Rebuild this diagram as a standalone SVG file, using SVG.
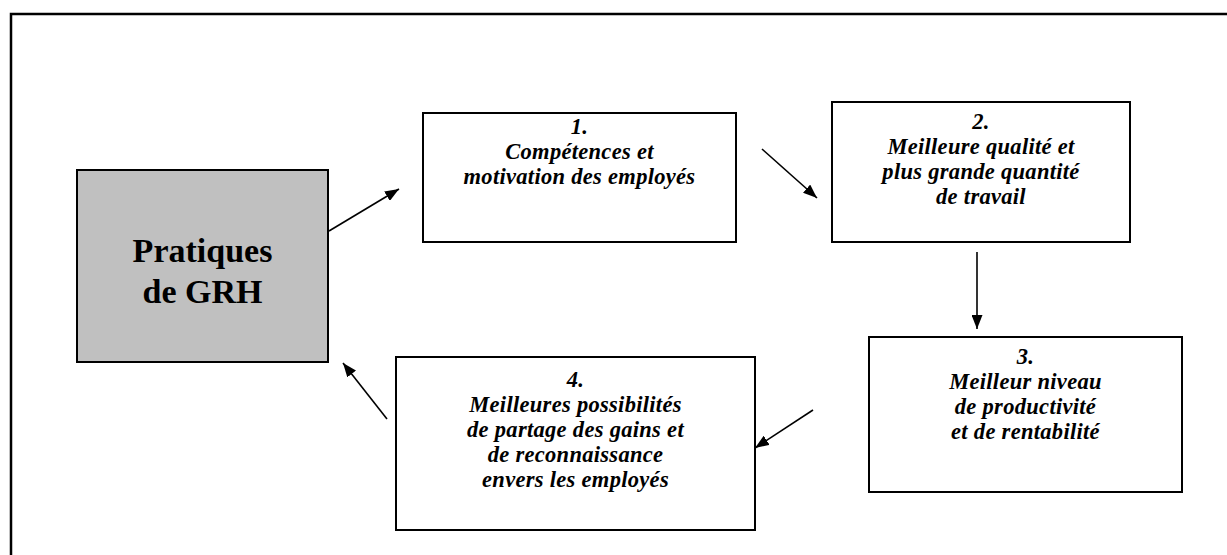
<svg xmlns="http://www.w3.org/2000/svg" width="1227" height="555" viewBox="0 0 1227 555">
  <style>
    .frame { fill: none; stroke: #000; stroke-width: 2.5; }
    .box { fill: #fff; stroke: #000; stroke-width: 2; }
    .grh { fill: #c0c0c0; stroke: #000; stroke-width: 2; }
    .lbl { font-family: "Liberation Serif", "Times New Roman", serif; font-weight: bold; font-style: italic; font-size: 22.5px; letter-spacing: 0.3px; text-anchor: middle; fill: #000; }
    .title { font-family: "Liberation Serif", "Times New Roman", serif; font-weight: bold; font-size: 34px; text-anchor: middle; fill: #000; }
    .arrow { stroke: #000; stroke-width: 1.6; fill: none; marker-end: url(#head); }
  </style>
  <defs>
    <marker id="head" markerUnits="userSpaceOnUse" markerWidth="14" markerHeight="11" refX="14" refY="5.5" orient="auto">
      <path d="M0,0 L14,5.5 L0,11 z" fill="#000"/>
    </marker>
  </defs>

  <!-- page frame, open on the right and bottom -->
  <path class="frame" d="M11,555 V14 H1227"/>

  <g id="node-grh">
    <rect class="grh" x="77" y="170" width="251" height="192"/>
    <text class="title" x="202.5" y="262">Pratiques</text>
    <text class="title" x="202.5" y="303">de GRH</text>
  </g>

  <g id="node-1">
    <rect class="box" x="423" y="113" width="313" height="129"/>
    <text class="lbl" x="579.5" y="134">1.</text>
    <text class="lbl" x="579.5" y="159">Compétences et</text>
    <text class="lbl" x="579.5" y="184">motivation des employés</text>
  </g>

  <g id="node-2">
    <rect class="box" x="832" y="102" width="298" height="140"/>
    <text class="lbl" x="981" y="129">2.</text>
    <text class="lbl" x="981" y="154">Meilleure qualité et</text>
    <text class="lbl" x="981" y="179">plus grande quantité</text>
    <text class="lbl" x="981" y="204">de travail</text>
  </g>

  <g id="node-3">
    <rect class="box" x="869" y="337" width="313" height="155"/>
    <text class="lbl" x="1025.5" y="364">3.</text>
    <text class="lbl" x="1025.5" y="389">Meilleur niveau</text>
    <text class="lbl" x="1025.5" y="414">de productivité</text>
    <text class="lbl" x="1025.5" y="439">et de rentabilité</text>
  </g>

  <g id="node-4">
    <rect class="box" x="396" y="357" width="359" height="173"/>
    <text class="lbl" x="575.5" y="387">4.</text>
    <text class="lbl" x="575.5" y="412">Meilleures possibilités</text>
    <text class="lbl" x="575.5" y="437">de partage des gains et</text>
    <text class="lbl" x="575.5" y="462">de reconnaissance</text>
    <text class="lbl" x="575.5" y="487">envers les employés</text>
  </g>

  <g id="connectors">
    <line class="arrow" x1="329" y1="231" x2="399" y2="189"/>
    <line class="arrow" x1="762" y1="149" x2="817" y2="198"/>
    <line class="arrow" x1="977" y1="252" x2="977" y2="329"/>
    <line class="arrow" x1="813" y1="410" x2="755" y2="448"/>
    <line class="arrow" x1="387" y1="419" x2="343" y2="363"/>
  </g>
</svg>
